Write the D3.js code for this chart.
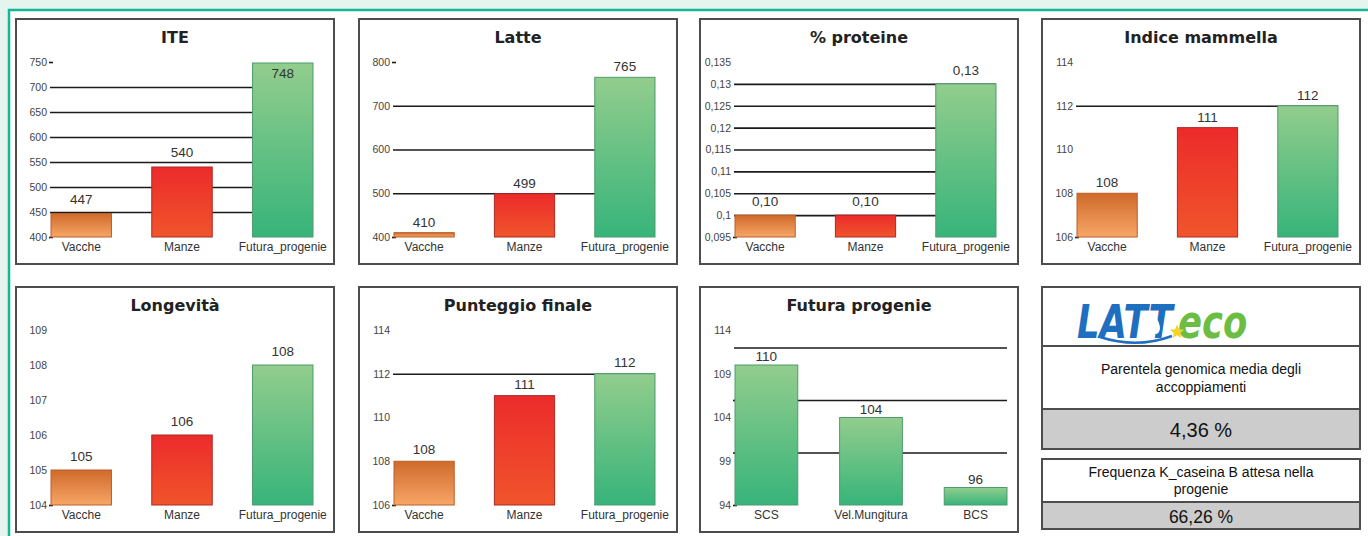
<!DOCTYPE html>
<html>
<head>
<meta charset="utf-8">
<script src="https://cdn.jsdelivr.net/npm/d3@7"></script>
<style>
  html, body { margin: 0; padding: 0; background: #e6f4f0; overflow: hidden; }
  svg { display: block; }
  .tick text { font-family: "Liberation Sans", Arial, sans-serif; font-size: 10.5px; fill: #444; }
  .cat-axis .tick text { font-size: 12px; fill: #333; }
  .panel-title { font-family: "DejaVu Sans", sans-serif; font-weight: bold; font-size: 16px; fill: #222; }
  .value-label { font-family: "Liberation Sans", Arial, sans-serif; font-size: 13.5px; fill: #333; }
  .info-text { font-family: "Liberation Sans", Arial, sans-serif; fill: #111; }
</style>
</head>
<body>
<div id="chart"></div>
<script>
'use strict';

// ── Data ────────────────────────────────────────────────────
const GROUPS = ['Vacche', 'Manze', 'Futura_progenie'];
const TRAITS = ['SCS', 'Vel.Mungitura', 'BCS'];

const ITE_VALUES   = [447, 540, 748];
const ITE_TICKS    = [400, 450, 500, 550, 600, 650, 700, 750];
const ITE_GRID     = [450, 500, 550, 600, 650, 700];
const ITE_MARKS    = [400, 750];

const LATTE_VALUES = [410, 499, 765];
const LATTE_TICKS  = [400, 500, 600, 700, 800];
const LATTE_GRID   = [500, 600, 700];
const LATTE_MARKS  = [400, 800];

const PROT_VALUES  = [0.10, 0.10, 0.13];
const PROT_TICKS   = [0.095, 0.1, 0.105, 0.11, 0.115, 0.12, 0.125, 0.13, 0.135];
const PROT_GRID    = [0.1, 0.105, 0.11, 0.115, 0.12, 0.125, 0.13];
const PROT_MARKS   = [0.095];

const MAMM_VALUES  = [108, 111, 112];
const MAMM_TICKS   = [106, 108, 110, 112, 114];
const MAMM_GRID    = [112];
const MAMM_MARKS   = [106];

const LONG_VALUES  = [105, 106, 108];
const LONG_TICKS   = [104, 105, 106, 107, 108, 109];
const LONG_GRID    = [];
const LONG_MARKS   = [104];

const PUNT_VALUES  = [108, 111, 112];
const PUNT_TICKS   = [106, 108, 110, 112, 114];
const PUNT_GRID    = [112];
const PUNT_MARKS   = [106];

const PROG_VALUES  = [110, 104, 96];
const PROG_TICKS   = [94, 99, 104, 109, 114];
const PROG_GRID    = [100, 106, 112];
const PROG_MARKS   = [94, 100, 106];

const PARENTELA_LABEL = ['Parentela genomica media degli', 'accoppiamenti'];
const PARENTELA_VALUE = '4,36 %';
const KCAS_LABEL      = ['Frequenza K_caseina B attesa nella', 'progenie'];
const KCAS_VALUE      = '66,26 %';

// ── Layout ──────────────────────────────────────────────────
const W = 1368, H = 536;
const COL_X = [16, 359, 700, 1042];
const ROW_Y = [19, 287];
const BOX_W = 318, BOX_H = 245;
const PLOT_TOP = 43, PLOT_BOTTOM = 218, AXIS_X = 34;

const commaNum = d => String(d).replace('.', ',');
const intFmt   = d => d3.format('d')(d);
const dec2Fmt  = d => d.toFixed(2).replace('.', ',');

const GROUP_FILL = ['orange', 'red', 'green'];

const panels = [
  { title: 'ITE',              cats: GROUPS, values: ITE_VALUES,   ticks: ITE_TICKS,   grid: ITE_GRID,   marks: ITE_MARKS,   fmt: intFmt,  col: 0, row: 0, right: 297, gap: 10, fills: GROUP_FILL },
  { title: 'Latte',            cats: GROUPS, values: LATTE_VALUES, ticks: LATTE_TICKS, grid: LATTE_GRID, marks: LATTE_MARKS, fmt: intFmt,  col: 1, row: 0, right: 296, gap: 6,  fills: GROUP_FILL },
  { title: '% proteine',       cats: GROUPS, values: PROT_VALUES,  ticks: PROT_TICKS,  grid: PROT_GRID,  marks: PROT_MARKS,  fmt: dec2Fmt, col: 2, row: 0, right: 296, gap: 9,  fills: GROUP_FILL },
  { title: 'Indice mammella',  cats: GROUPS, values: MAMM_VALUES,  ticks: MAMM_TICKS,  grid: MAMM_GRID,  marks: MAMM_MARKS,  fmt: intFmt,  col: 3, row: 0, right: 296, gap: 6,  fills: GROUP_FILL },
  { title: 'Longevità',        cats: GROUPS, values: LONG_VALUES,  ticks: LONG_TICKS,  grid: LONG_GRID,  marks: LONG_MARKS,  fmt: intFmt,  col: 0, row: 1, right: 297, gap: 9,  fills: GROUP_FILL },
  { title: 'Punteggio finale', cats: GROUPS, values: PUNT_VALUES,  ticks: PUNT_TICKS,  grid: PUNT_GRID,  marks: PUNT_MARKS,  fmt: intFmt,  col: 1, row: 1, right: 296, gap: 7,  fills: GROUP_FILL },
  { title: 'Futura progenie',  cats: TRAITS, values: PROG_VALUES,  ticks: PROG_TICKS,  grid: PROG_GRID,  marks: PROG_MARKS,  fmt: intFmt,  col: 2, row: 1, right: 307, gap: 4,  fills: ['green', 'green', 'green'] }
];

const svg = d3.select('#chart').append('svg')
  .attr('width', W).attr('height', H);

// gradients
const defs = svg.append('defs');
const GRADS = {
  orange: ['#cf6a2b', '#f7a667'],
  red:    ['#ec2b2b', '#f0552b'],
  green:  ['#92cd8d', '#37b47a']
};
const STROKES = { orange: '#b9602a', red: '#a82a26', green: '#4f9b6e' };
Object.entries(GRADS).forEach(([k, [c0, c1]]) => {
  const lg = defs.append('linearGradient').attr('id', 'grad-' + k)
    .attr('x1', 0).attr('y1', 0).attr('x2', 0).attr('y2', 1);
  lg.append('stop').attr('offset', '0%').attr('stop-color', c0);
  lg.append('stop').attr('offset', '100%').attr('stop-color', c1);
});

// outer frame
svg.append('rect')
  .attr('x', 9).attr('y', 10).attr('width', W + 20).attr('height', H + 20)
  .attr('fill', '#fff').attr('stroke', '#14b795').attr('stroke-width', 2.5);

// ── Bar panels ──────────────────────────────────────────────
function drawPanel(p) {
  const g = svg.append('g')
    .attr('transform', `translate(${COL_X[p.col]},${ROW_Y[p.row]})`);

  g.append('rect')
    .attr('width', BOX_W).attr('height', BOX_H)
    .attr('fill', '#fff').attr('stroke', '#4d4d4d').attr('stroke-width', 2);

  g.append('text').attr('class', 'panel-title')
    .attr('x', BOX_W / 2).attr('y', 24)
    .attr('text-anchor', 'middle')
    .text(p.title);

  const y = d3.scaleLinear()
    .domain(d3.extent(p.ticks))
    .range([PLOT_BOTTOM, PLOT_TOP]);

  const x = d3.scaleBand()
    .domain(p.cats)
    .range([AXIS_X + 1, p.right])
    .paddingInner(0.4)
    .paddingOuter(0);

  // gridlines
  const grid = g.append('g')
    .attr('transform', `translate(${AXIS_X},0)`)
    .call(d3.axisLeft(y).tickValues(p.grid).tickSize(-(p.right - AXIS_X)).tickFormat(''));
  grid.select('.domain').remove();
  grid.selectAll('line').attr('stroke', '#1a1a1a').attr('stroke-width', 1.6);

  // small tick marks
  const marks = g.append('g')
    .attr('transform', `translate(${AXIS_X + 3},0)`)
    .call(d3.axisLeft(y).tickValues(p.marks).tickSize(4).tickFormat(''));
  marks.select('.domain').remove();
  marks.selectAll('line').attr('stroke', '#1a1a1a').attr('stroke-width', 1.6);

  // tick labels
  const ax = g.append('g')
    .attr('transform', `translate(${AXIS_X},0)`)
    .call(d3.axisLeft(y).tickValues(p.ticks).tickSize(0).tickPadding(3).tickFormat(commaNum));
  ax.select('.domain').remove();

  // bars
  g.selectAll('rect.bar')
    .data(p.values)
    .join('rect')
    .attr('class', 'bar')
    .attr('x', (d, i) => x(p.cats[i]))
    .attr('y', d => y(d))
    .attr('width', x.bandwidth())
    .attr('height', d => PLOT_BOTTOM - y(d))
    .attr('fill', (d, i) => `url(#grad-${p.fills[i]})`)
    .attr('stroke', (d, i) => STROKES[p.fills[i]])
    .attr('stroke-width', 1);

  // value labels (pushed inside the bar when it reaches the top)
  g.selectAll('text.value-label')
    .data(p.values)
    .join('text')
    .attr('class', 'value-label')
    .attr('x', (d, i) => x(p.cats[i]) + x.bandwidth() / 2)
    .attr('y', d => y(d) - p.gap < PLOT_TOP + 4 ? y(d) + 15 : y(d) - p.gap)
    .attr('text-anchor', 'middle')
    .text(d => p.fmt(d));

  // category labels
  const cx = g.append('g').attr('class', 'cat-axis')
    .attr('transform', `translate(0,${PLOT_BOTTOM})`)
    .call(d3.axisBottom(x).tickSize(0).tickPadding(5));
  cx.select('.domain').remove();
}

panels.forEach(drawPanel);

// ── Info panel ──────────────────────────────────────────────
const ix = COL_X[3], iy = ROW_Y[1];
const info = svg.append('g').attr('transform', `translate(${ix},${iy})`);

// box 1
info.append('rect').attr('width', BOX_W).attr('height', 162)
  .attr('fill', '#fff').attr('stroke', '#4d4d4d').attr('stroke-width', 2);
info.append('rect').attr('y', 122).attr('width', BOX_W).attr('height', 40)
  .attr('fill', '#cccccc').attr('stroke', '#4d4d4d').attr('stroke-width', 2);
info.append('line').attr('x1', 0).attr('x2', BOX_W).attr('y1', 59).attr('y2', 59)
  .attr('stroke', '#4d4d4d').attr('stroke-width', 2);

// logo: one text, two coloured runs
const logo = info.append('g');
logo.append('path')
  .attr('d', 'M58,50 Q95,62 130,49')
  .attr('fill', 'none').attr('stroke', '#1e6fbf').attr('stroke-width', 2.5);
const logoText = logo.append('text')
  .attr('transform', 'translate(35,51) scale(0.93,1.22)')
  .attr('font-family', 'DejaVu Sans').attr('font-weight', 'bold').attr('font-style', 'italic')
  .attr('font-size', 38);
logoText.append('tspan').attr('fill', '#1e6fbf').text('LATT');
logoText.append('tspan').attr('fill', '#6bbd43').attr('dx', 6).text('eco');
logo.append('path')
  .attr('d', 'M114,30 Q108,40 111,45 Q114,49 117,45 Q120,40 114,30 Z')
  .attr('fill', '#ffffff');
const star = d3.range(10).map(i => {
  const r = i % 2 === 0 ? 7.5 : 3.3;
  const a = -Math.PI / 2 + i * Math.PI / 5;
  return [135 + r * Math.cos(a), 45 + r * Math.sin(a)];
});
logo.append('polygon').attr('points', star.map(d => d.join(',')).join(' '))
  .attr('fill', '#f4d22a');

info.selectAll('text.par')
  .data(PARENTELA_LABEL).join('text')
  .attr('class', 'info-text par')
  .attr('x', BOX_W / 2).attr('y', (d, i) => 87 + i * 18)
  .attr('text-anchor', 'middle').attr('font-size', 14)
  .text(d => d);
info.append('text').attr('class', 'info-text')
  .attr('x', BOX_W / 2).attr('y', 150)
  .attr('text-anchor', 'middle').attr('font-size', 20)
  .text(PARENTELA_VALUE);

// box 2
const b2 = info.append('g').attr('transform', 'translate(0,172)');
b2.append('rect').attr('width', BOX_W).attr('height', 70)
  .attr('fill', '#fff').attr('stroke', '#4d4d4d').attr('stroke-width', 2);
b2.append('rect').attr('y', 43).attr('width', BOX_W).attr('height', 27)
  .attr('fill', '#cccccc').attr('stroke', '#4d4d4d').attr('stroke-width', 2);
b2.selectAll('text.kc')
  .data(KCAS_LABEL).join('text')
  .attr('class', 'info-text kc')
  .attr('x', BOX_W / 2).attr('y', (d, i) => 18 + i * 17)
  .attr('text-anchor', 'middle').attr('font-size', 14)
  .text(d => d);
b2.append('text').attr('class', 'info-text')
  .attr('x', BOX_W / 2).attr('y', 64)
  .attr('text-anchor', 'middle').attr('font-size', 17.5)
  .text(KCAS_VALUE);
</script>
</body>
</html>
